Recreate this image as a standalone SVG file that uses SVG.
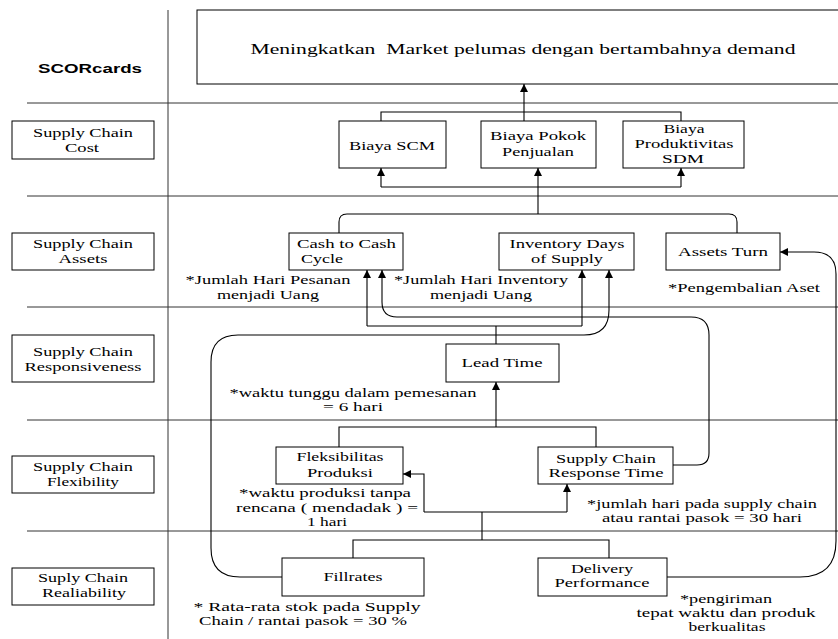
<svg xmlns="http://www.w3.org/2000/svg" width="838" height="639" viewBox="0 0 838 639">
<style>
.grid{stroke:#333;stroke-width:1;fill:none}
.ln{stroke:#000;stroke-width:1.1;fill:none}
.arr{stroke:#000;stroke-width:1.1;fill:none;marker-end:url(#ah)}
.box{fill:#fff;stroke:#000;stroke-width:1}
text{font-family:"Liberation Serif","Times New Roman",serif;font-size:13px;fill:#000;text-anchor:middle}
.st{text-anchor:start}
.hd{font-family:"Liberation Sans",Arial,sans-serif;font-weight:bold;font-size:13px}
.ti{font-size:15.5px}
</style>
<defs>
<marker id="ah" viewBox="0 0 10 10" refX="10" refY="5" markerWidth="9" markerHeight="8" markerUnits="userSpaceOnUse" orient="auto">
<path d="M0,0 L10,5 L0,10 z" fill="#000"/>
</marker>
</defs>
<g id="grid">
<line class="grid" x1="168" y1="10" x2="168" y2="639"/>
<line class="grid" x1="27" y1="103" x2="838" y2="103"/>
<line class="grid" x1="27" y1="196" x2="838" y2="196"/>
<line class="grid" x1="27" y1="307" x2="838" y2="307"/>
<line class="grid" x1="27" y1="420" x2="838" y2="420"/>
<line class="grid" x1="27" y1="531" x2="838" y2="531"/>
</g>
<g id="connectors">
<path class="arr" d="M524,121 V84"/>
<path class="ln" d="M381,121 V112 H681 V121"/>
<path class="ln" d="M381,187 H681"/>
<path class="arr" d="M381,187 V168"/>
<path class="arr" d="M681,187 V168"/>
<path class="arr" d="M538,214 V168"/>
<path class="ln" d="M339,233 V222 Q339,214 347,214 H729 Q737,214 737,222 V233"/>
<path class="ln" d="M496,344 V326"/>
<path class="ln" d="M367,326 H582"/>
<path class="arr" d="M367,326 V270"/>
<path class="arr" d="M582,326 V270"/>
<path class="arr" d="M673,465 H697 Q709,465 709,453 V335 Q709,317 691,317 H397 Q382,317 382,302 V270"/>
<path class="arr" d="M282,577 H240 Q211,577 211,548 V362 Q211,335 238,335 H584 Q609,335 609,310 V270"/>
<path class="arr" d="M496,427 V382"/>
<path class="ln" d="M339,447 V427 H596 V447"/>
<path class="ln" d="M353,558 V540 H609 V558"/>
<path class="ln" d="M482,540 V512"/>
<path class="ln" d="M424,512 H567"/>
<path class="arr" d="M424,512 V474 H403"/>
<path class="arr" d="M567,512 V484"/>
<path class="arr" d="M667,577 H800 Q836,577 836,541 V274 Q836,252 814,252 H780"/>
</g>
<g id="scorcards">
<text class="hd" x="90" y="73" textLength="104" lengthAdjust="spacingAndGlyphs">SCORcards</text>
</g>
<g id="goal">
<rect class="box" x="197" y="10" width="660" height="74"/>
<text class="ti" x="523" y="54" textLength="545" lengthAdjust="spacingAndGlyphs">Meningkatkan&#160; Market pelumas dengan bertambahnya demand</text>
</g>
<g id="label-cost">
<rect class="box" x="12" y="121" width="142" height="38"/>
<text x="83" y="137" textLength="100" lengthAdjust="spacingAndGlyphs">Supply Chain</text>
<text x="82" y="152" textLength="34" lengthAdjust="spacingAndGlyphs">Cost</text>
</g>
<g id="label-assets">
<rect class="box" x="12" y="233" width="142" height="37"/>
<text x="83" y="248" textLength="100" lengthAdjust="spacingAndGlyphs">Supply Chain</text>
<text x="83" y="263" textLength="49" lengthAdjust="spacingAndGlyphs">Assets</text>
</g>
<g id="label-responsiveness">
<rect class="box" x="12" y="335" width="142" height="47"/>
<text x="83" y="356" textLength="100" lengthAdjust="spacingAndGlyphs">Supply Chain</text>
<text x="83" y="371" textLength="117" lengthAdjust="spacingAndGlyphs">Responsiveness</text>
</g>
<g id="label-flexibility">
<rect class="box" x="12" y="456" width="142" height="37"/>
<text x="83" y="471" textLength="100" lengthAdjust="spacingAndGlyphs">Supply Chain</text>
<text x="83" y="486" textLength="72" lengthAdjust="spacingAndGlyphs">Flexibility</text>
</g>
<g id="label-reliability">
<rect class="box" x="12" y="568" width="142" height="37"/>
<text x="83" y="582" textLength="90" lengthAdjust="spacingAndGlyphs">Suply Chain</text>
<text x="84" y="597" textLength="84" lengthAdjust="spacingAndGlyphs">Realiability</text>
</g>
<g id="biaya-scm">
<rect class="box" x="339" y="121" width="107" height="47"/>
<text x="392" y="150" textLength="86" lengthAdjust="spacingAndGlyphs">Biaya SCM</text>
</g>
<g id="biaya-pokok">
<rect class="box" x="481" y="121" width="115" height="47"/>
<text x="538" y="140" textLength="96" lengthAdjust="spacingAndGlyphs">Biaya Pokok</text>
<text x="538" y="156" textLength="72" lengthAdjust="spacingAndGlyphs">Penjualan</text>
</g>
<g id="biaya-sdm">
<rect class="box" x="623" y="121" width="121" height="47"/>
<text x="684" y="133" textLength="41" lengthAdjust="spacingAndGlyphs">Biaya</text>
<text x="684" y="148" textLength="99" lengthAdjust="spacingAndGlyphs">Produktivitas</text>
<text x="683" y="163" textLength="42" lengthAdjust="spacingAndGlyphs">SDM</text>
</g>
<g id="cash-to-cash">
<rect class="box" x="289" y="233" width="114" height="37"/>
<text class="st" x="297" y="248" textLength="99" lengthAdjust="spacingAndGlyphs">Cash to Cash</text>
<text class="st" x="301" y="263" textLength="42" lengthAdjust="spacingAndGlyphs">Cycle</text>
<text x="268" y="284" textLength="165" lengthAdjust="spacingAndGlyphs">*Jumlah Hari Pesanan</text>
<text x="268" y="299" textLength="102" lengthAdjust="spacingAndGlyphs">menjadi Uang</text>
</g>
<g id="inventory-days">
<rect class="box" x="499" y="233" width="135" height="37"/>
<text x="567" y="248" textLength="115" lengthAdjust="spacingAndGlyphs">Inventory Days</text>
<text x="567" y="263" textLength="72" lengthAdjust="spacingAndGlyphs">of Supply</text>
<text x="481" y="284" textLength="174" lengthAdjust="spacingAndGlyphs">*Jumlah Hari Inventory</text>
<text x="481" y="299" textLength="102" lengthAdjust="spacingAndGlyphs">menjadi Uang</text>
</g>
<g id="assets-turn">
<rect class="box" x="666" y="233" width="114" height="37"/>
<text x="723" y="256" textLength="90" lengthAdjust="spacingAndGlyphs">Assets Turn</text>
<text x="744" y="292" textLength="152" lengthAdjust="spacingAndGlyphs">*Pengembalian Aset</text>
</g>
<g id="lead-time">
<rect class="box" x="446" y="344" width="113" height="38"/>
<text x="502" y="367" textLength="81" lengthAdjust="spacingAndGlyphs">Lead Time</text>
<text x="353" y="397" textLength="247" lengthAdjust="spacingAndGlyphs">*waktu tunggu dalam pemesanan</text>
<text x="353" y="411" textLength="60" lengthAdjust="spacingAndGlyphs">= 6 hari</text>
</g>
<g id="fleksibilitas">
<rect class="box" x="276" y="447" width="127" height="37"/>
<text x="340" y="461" textLength="87" lengthAdjust="spacingAndGlyphs">Fleksibilitas</text>
<text x="340" y="477" textLength="66" lengthAdjust="spacingAndGlyphs">Produksi</text>
<text x="325" y="497" textLength="172" lengthAdjust="spacingAndGlyphs">*waktu produksi tanpa</text>
<text x="327" y="512" textLength="182" lengthAdjust="spacingAndGlyphs">rencana ( mendadak ) =</text>
<text x="327" y="526" textLength="40" lengthAdjust="spacingAndGlyphs">1 hari</text>
</g>
<g id="response-time">
<rect class="box" x="538" y="447" width="135" height="37"/>
<text x="606" y="463" textLength="100" lengthAdjust="spacingAndGlyphs">Supply Chain</text>
<text x="606" y="477" textLength="115" lengthAdjust="spacingAndGlyphs">Response Time</text>
<text x="702" y="508" textLength="230" lengthAdjust="spacingAndGlyphs">*jumlah hari pada supply chain</text>
<text x="702" y="522" textLength="200" lengthAdjust="spacingAndGlyphs">atau rantai pasok = 30 hari</text>
</g>
<g id="fillrates">
<rect class="box" x="282" y="558" width="142" height="38"/>
<text x="353" y="581" textLength="59" lengthAdjust="spacingAndGlyphs">Fillrates</text>
<text x="307" y="611" textLength="227" lengthAdjust="spacingAndGlyphs">* Rata-rata stok pada Supply</text>
<text x="303" y="625" textLength="208" lengthAdjust="spacingAndGlyphs">Chain / rantai pasok = 30 %</text>
</g>
<g id="delivery">
<rect class="box" x="538" y="558" width="129" height="38"/>
<text x="602" y="573" textLength="62" lengthAdjust="spacingAndGlyphs">Delivery</text>
<text x="602" y="587" textLength="95" lengthAdjust="spacingAndGlyphs">Performance</text>
<text x="726" y="603" textLength="92" lengthAdjust="spacingAndGlyphs">*pengiriman</text>
<text x="726" y="617" textLength="179" lengthAdjust="spacingAndGlyphs">tepat waktu dan produk</text>
<text x="727" y="631" textLength="77" lengthAdjust="spacingAndGlyphs">berkualitas</text>
</g>
</svg>
